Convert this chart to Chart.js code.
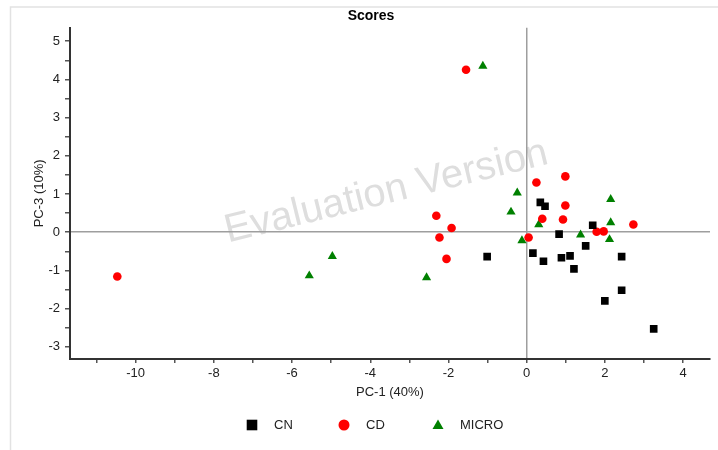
<!DOCTYPE html>
<html>
<head>
<meta charset="utf-8">
<title>Scores</title>
<script src="https://cdn.jsdelivr.net/npm/chart.js@4/dist/chart.umd.min.js"></script>
<style>
  html, body { margin: 0; padding: 0; background: #fff; }
  #wrap { width: 718px; height: 450px; position: relative; }
</style>
</head>
<body>
<div id="wrap"><canvas id="scoreChart"></canvas></div>
<script>
// PC-1 / PC-3 scores
const cnX = [-1.01, 0.35, 0.47, 0.16, 0.43, 0.83, 0.89, 1.11, 1.21, 1.51, 1.69, 2.43, 2.00, 2.43, 3.25];
const cnY = [-0.64, 0.78, 0.68, -0.55, -0.76, -0.05, -0.67, -0.62, -0.96, -0.36, 0.18, -0.64, -1.80, -1.52, -2.53];

const cdX = [-10.47, -1.55, 0.25, 0.99, 0.99, 0.40, 0.93, -2.31, -1.92, -2.23, -2.05, 0.05, 1.79, 1.97, 2.73];
const cdY = [-1.16, 4.25, 1.30, 1.46, 0.70, 0.35, 0.33, 0.43, 0.11, -0.14, -0.70, -0.14, 0.01, 0.02, 0.20];

const microX = [-1.12, -5.56, -4.97, -2.56, -0.24, -0.40, 0.31, -0.12, 1.38, 2.15, 2.15, 2.12];
const microY = [4.35, -1.14, -0.63, -1.19, 1.03, 0.53, 0.20, -0.22, -0.07, 0.86, 0.25, -0.19];

// tick positions (majors get labels, the rest are minor marks)
const xTickValues = [-11, -10, -9, -8, -7, -6, -5, -4, -3, -2, -1, 0, 1, 2, 3, 4];
const xTickLabels = [-10, -8, -6, -4, -2, 0, 2, 4];
const yTickValues = [-3, -2.5, -2, -1.5, -1, -0.5, 0, 0.5, 1, 1.5, 2, 2.5, 3, 3.5, 4, 4.5, 5];
const yTickLabels = [-3, -2, -1, 0, 1, 2, 3, 4, 5];

const toPoints = (xs, ys) => xs.map((x, i) => ({ x: x, y: ys[i] }));

const FONT = "'Liberation Sans', Arial, sans-serif";

// frame, watermark and legend drawn on the canvas
const decorations = {
  id: 'decorations',
  beforeDraw(chart) {
    const ctx = chart.ctx;
    ctx.save();
    // light frame (top and left edge)
    ctx.strokeStyle = '#e2e2e2';
    ctx.lineWidth = 1.5;
    ctx.beginPath();
    ctx.moveTo(10.5, 450);
    ctx.lineTo(10.5, 7);
    ctx.lineTo(718, 7);
    ctx.stroke();
    // watermark
    ctx.translate(389, 203);
    ctx.rotate(-13.8 * Math.PI / 180);
    ctx.font = '40px ' + FONT;
    ctx.fillStyle = '#dedede';
    ctx.textAlign = 'center';
    ctx.textBaseline = 'alphabetic';
    ctx.fillText('Evaluation Version', 0, 0);
    ctx.restore();
  },
  afterDraw(chart) {
    const ctx = chart.ctx;
    const legendX = [252, 344, 438];
    const legendY = 425;
    ctx.save();
    chart.data.datasets.forEach((ds, i) => {
      const cx = legendX[i];
      ctx.fillStyle = ds.backgroundColor;
      ctx.beginPath();
      if (ds.pointStyle === 'rect') {
        ctx.rect(cx - 5.3, legendY - 5.3, 10.6, 10.6);
      } else if (ds.pointStyle === 'circle') {
        ctx.arc(cx, legendY, 5.5, 0, Math.PI * 2);
      } else {
        ctx.moveTo(cx, legendY - 5.5);
        ctx.lineTo(cx + 5.5, legendY + 4);
        ctx.lineTo(cx - 5.5, legendY + 4);
        ctx.closePath();
      }
      ctx.fill();
      ctx.font = '13px ' + FONT;
      ctx.fillStyle = '#222';
      ctx.textAlign = 'left';
      ctx.textBaseline = 'middle';
      ctx.fillText(ds.label, cx + 22, legendY);
    });
    ctx.restore();
  }
};

const zeroLine = (c) => (c.tick && c.tick.value === 0 ? '#9e9e9e' : 'rgba(0,0,0,0)');

new Chart(document.getElementById('scoreChart'), {
  type: 'scatter',
  data: {
    datasets: [
      {
        label: 'CN',
        data: toPoints(cnX, cnY),
        pointStyle: 'rect',
        pointRadius: 5.4,
        backgroundColor: '#000000',
        borderColor: '#000000',
        borderWidth: 0
      },
      {
        label: 'CD',
        data: toPoints(cdX, cdY),
        pointStyle: 'circle',
        pointRadius: 4.3,
        backgroundColor: '#ff0000',
        borderColor: '#ff0000',
        borderWidth: 0
      },
      {
        label: 'MICRO',
        data: toPoints(microX, microY),
        pointStyle: 'triangle',
        pointRadius: 5.3,
        backgroundColor: '#008000',
        borderColor: '#008000',
        borderWidth: 0
      }
    ]
  },
  options: {
    responsive: true,
    maintainAspectRatio: false,
    animation: false,
    layout: { padding: { left: 32, right: 8, top: 0, bottom: 41 } },
    plugins: {
      legend: { display: false },
      tooltip: { enabled: false },
      title: {
        display: true,
        text: 'Scores',
        color: '#000',
        font: { family: FONT, size: 14, weight: 'bold' },
        padding: { top: 8, bottom: 3 }
      }
    },
    scales: {
      x: {
        type: 'linear',
        min: -11.68,
        max: 4.69,
        afterFit: (s) => { s.height = 50; },
        afterBuildTicks: (s) => { s.ticks = xTickValues.map(v => ({ value: v })); },
        ticks: {
          padding: 3,
          color: '#222',
          font: { family: FONT, size: 13 },
          maxRotation: 0,
          autoSkip: false,
          callback: (v) => (xTickLabels.includes(v) ? String(v) : '')
        },
        grid: {
          color: zeroLine,
          lineWidth: 1.5,
          tickColor: '#555',
          tickLength: 4,
          tickWidth: 1.5
        },
        border: { display: true, color: '#333', width: 2 },
        title: {
          display: true,
          text: 'PC-1 (40%)',
          color: '#222',
          font: { family: FONT, size: 13 },
          padding: { top: 0, bottom: 9 }
        }
      },
      y: {
        type: 'linear',
        min: -3.32,
        max: 5.35,
        afterFit: (s) => { s.width = 38; },
        afterBuildTicks: (s) => { s.ticks = yTickValues.map(v => ({ value: v })); },
        ticks: {
          padding: 5,
          color: '#222',
          font: { family: FONT, size: 13 },
          autoSkip: false,
          callback: (v) => (yTickLabels.includes(v) ? String(v) : '')
        },
        grid: {
          color: zeroLine,
          lineWidth: 1.5,
          tickColor: '#555',
          tickLength: 5,
          tickWidth: 1.5
        },
        border: { display: true, color: '#333', width: 2 },
        title: {
          display: true,
          text: 'PC-3 (10%)',
          color: '#222',
          font: { family: FONT, size: 13 },
          padding: { top: 0, bottom: 0 }
        }
      }
    }
  },
  plugins: [decorations]
});
</script>
</body>
</html>
